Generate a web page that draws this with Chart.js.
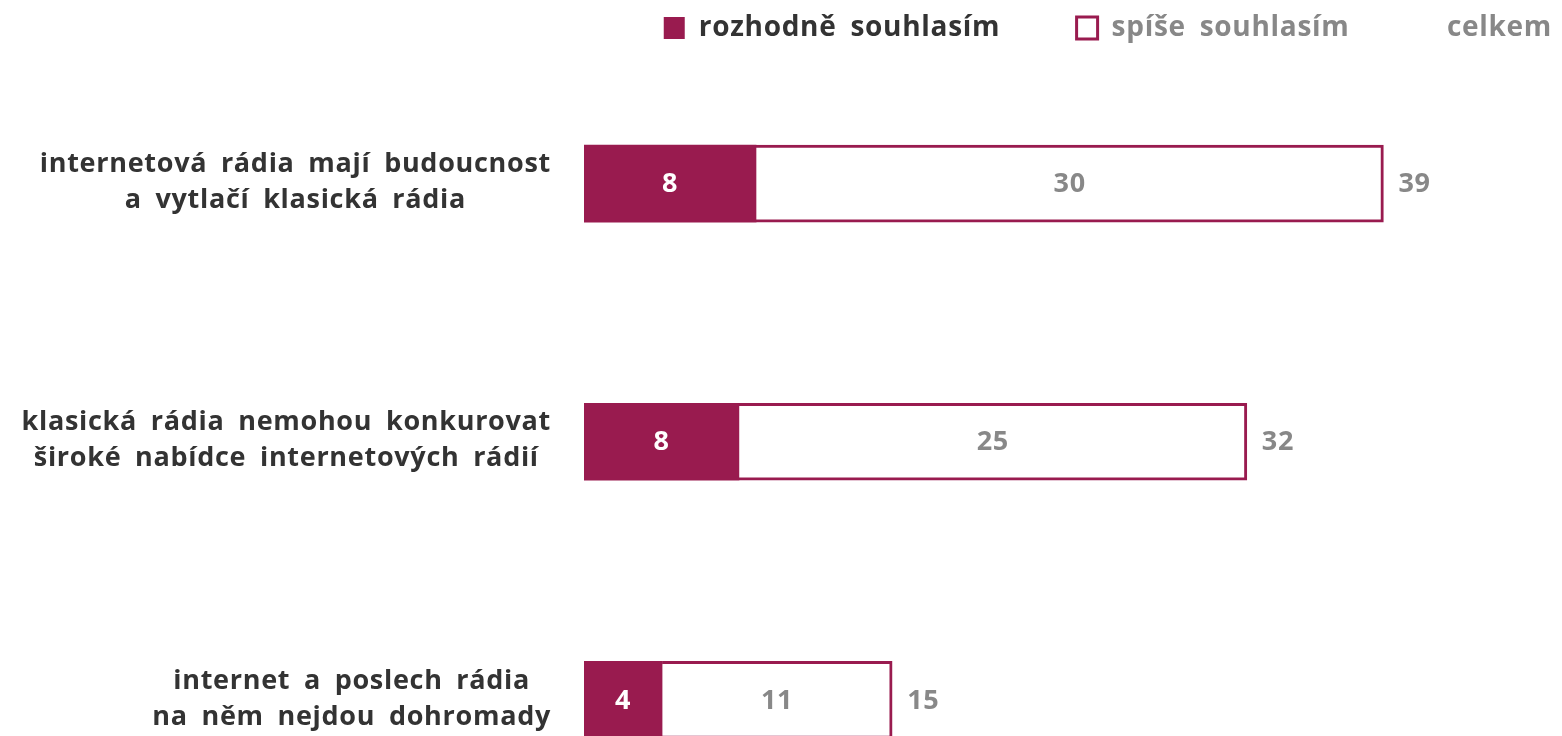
<!DOCTYPE html>
<html><head><meta charset="utf-8">
<script src="https://cdn.jsdelivr.net/npm/chart.js@4"></script>
<style>html,body{margin:0;padding:0;background:#fff;overflow:hidden}#wrap{position:relative;width:1562px;height:829px}</style>
</head><body><div id="wrap"><canvas id="c"></canvas></div>
<script>
const categories = [
  ["internetová rádia mají budoucnost", "a vytlačí klasická rádia"],
  ["klasická rádia nemohou konkurovat", "široké nabídce internetových rádií"],
  ["internet a poslech rádia", "na něm nejdou dohromady"]
];
const seriesNames = ["rozhodně souhlasím", "spíše souhlasím", "celkem"];
const rozhodne = [8.35, 7.52, 3.79];
const spise = [30.46, 24.66, 11.17];
const celkem = [39, 32, 15];

const MAROON = '#991b4f';
const DARK = '#333333';
const GRAY = '#888888';
const FONT = '"Open Sans", "Noto Sans", sans-serif';
const LS = '0.7px';
const WS = '6px';
const LEGEND_SIZE = 28;
const legendTextTargets = [369, 293, 102];

function applySpacing(ctx) { ctx.letterSpacing = LS; ctx.wordSpacing = WS; }

const spacingPlugin = {
  id: 'spacing',
  beforeUpdate(chart) { applySpacing(chart.ctx); },
  beforeLayout(chart) { applySpacing(chart.ctx); },
  beforeDraw(chart) { applySpacing(chart.ctx); }
};

function padText(ctx, text, target) {
  ctx.save();
  applySpacing(ctx);
  ctx.font = 'bold ' + LEGEND_SIZE + 'px ' + FONT;
  let t = text;
  let n = 0;
  while (ctx.measureText(t + '\u00a0').width <= target && n < 60) { t += '\u00a0'; n++; }
  while (ctx.measureText(t + '\u200a').width <= target && n < 120) { t += '\u200a'; n++; }
  ctx.restore();
  return t;
}

const labelPlugin = {
  id: 'customLabels',
  afterDatasetsDraw(chart) {
    const ctx = chart.ctx;
    const ys = chart.scales.y;
    ctx.save();
    applySpacing(ctx);
    ctx.font = 'bold 27px ' + FONT;
    ctx.textBaseline = 'middle';
    categories.forEach((lines, i) => {
      const cy = ys.getPixelForTick(i) - 1;
      const w = Math.max(...lines.map(l => ctx.measureText(l).width));
      const cx = ys.right - 33 - w / 2;
      ctx.fillStyle = DARK;
      ctx.textAlign = 'center';
      lines.forEach((l, j) => ctx.fillText(l, cx, cy + (j - (lines.length - 1) / 2) * 36));
    });
    const m0 = chart.getDatasetMeta(0), m1 = chart.getDatasetMeta(1);
    m0.data.forEach((bar, i) => {
      ctx.textAlign = 'center';
      ctx.fillStyle = '#ffffff';
      ctx.fillText(String(Math.round(rozhodne[i])), (bar.x + bar.base) / 2, bar.y + 1);
    });
    m1.data.forEach((bar, i) => {
      ctx.textAlign = 'center';
      ctx.fillStyle = GRAY;
      ctx.fillText(String(Math.round(spise[i])), (bar.x + bar.base) / 2, bar.y + 1);
      ctx.textAlign = 'left';
      ctx.fillText(String(celkem[i]), bar.x + 15, bar.y + 1);
    });
    ctx.restore();
  }
};

new Chart(document.getElementById('c'), {
  type: 'bar',
  data: {
    labels: categories,
    datasets: [
      { label: seriesNames[0], data: rozhodne, backgroundColor: MAROON, borderWidth: 0, barThickness: 77 },
      { label: seriesNames[1], data: spise, backgroundColor: '#ffffff', borderColor: MAROON, borderWidth: 3, borderSkipped: 'start', barThickness: 77 },
      { label: seriesNames[2], data: celkem, backgroundColor: 'rgba(0,0,0,0)', borderWidth: 0, barThickness: 77 }
    ]
  },
  options: {
    indexAxis: 'y',
    responsive: true,
    maintainAspectRatio: false,
    animation: false,
    layout: { padding: { top: 4, right: 0, bottom: 0, left: 0 } },
    scales: {
      x: {
        stacked: true, min: 0, max: 47.48, position: 'top',
        ticks: { display: false }, grid: { display: false }, border: { display: false },
        afterFit: s => { s.height = 2.5; }
      },
      y: {
        stacked: true,
        ticks: { display: false }, grid: { display: false }, border: { display: false },
        afterFit: s => { s.width = 584; }
      }
    },
    plugins: {
      tooltip: { enabled: false },
      legend: {
        position: 'top', align: 'end',
        labels: {
          boxWidth: 21, boxHeight: 22, padding: 10,
          font: { family: FONT, size: LEGEND_SIZE, weight: 'bold' },
          generateLabels: chart => seriesNames.map((n, i) => ({
            text: padText(chart.ctx, n, legendTextTargets[i]),
            fillStyle: i === 0 ? MAROON : (i === 1 ? '#ffffff' : 'rgba(0,0,0,0)'),
            strokeStyle: i === 2 ? 'rgba(0,0,0,0)' : MAROON,
            lineWidth: i === 1 ? 3 : 0,
            fontColor: i === 0 ? DARK : GRAY,
            datasetIndex: i,
            hidden: false
          }))
        }
      }
    }
  },
  plugins: [spacingPlugin, labelPlugin]
});
</script>
</body></html>
